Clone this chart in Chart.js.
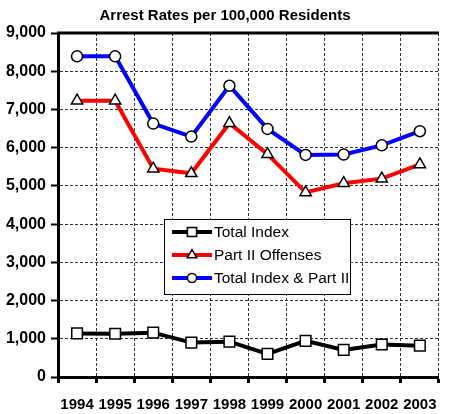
<!DOCTYPE html>
<html>
<head>
<meta charset="utf-8">
<script src="https://cdn.jsdelivr.net/npm/chart.js@4/dist/chart.umd.min.js"></script>
<style>
	html, body { margin: 0; padding: 0; background: #fff; }
	#wrap { width: 450px; height: 414px; }
</style>
</head>
<body>
<div id="wrap"><canvas id="lineChart" width="450" height="414"></canvas></div>
<script>
var years = [ "1994", "1995", "1996", "1997", "1998", "1999", "2000", "2001", "2002", "2003" ];
var totalIndex = [ 1140, 1130, 1160, 900, 925, 605, 945, 710, 850, 820 ];
var partTwo = [ 7230, 7230, 5450, 5330, 6640, 5830, 4830, 5070, 5190, 5560 ];
var combined = [ 8390, 8390, 6630, 6290, 7620, 6490, 5810, 5820, 6060, 6430 ];
var yTicks = [ 0, 9000, 1000 ]; // min, max, step

var sans = "'Liberation Sans', Arial, sans-serif";

// solid frame line across the top of the plot
var topFrame = {
	id : 'topFrame',
	afterDraw : function(chart) {
		var ctx = chart.ctx, a = chart.chartArea;
		ctx.save();
		ctx.strokeStyle = '#000';
		ctx.lineWidth = 3;
		ctx.beginPath();
		ctx.moveTo(a.left - 1, a.top);
		ctx.lineTo(a.right, a.top);
		ctx.stroke();
		ctx.restore();
	}
};

// boxed legend sitting inside the plot
var boxLegend = {
	id : 'boxLegend',
	afterDatasetsDraw : function(chart) {
		var ctx = chart.ctx;
		var x = 164, y = 219, w = 186, h = 75;
		ctx.save();
		ctx.fillStyle = '#fff';
		ctx.fillRect(x, y, w, h);
		ctx.strokeStyle = '#000';
		ctx.lineWidth = 1;
		ctx.strokeRect(x + 0.5, y + 0.5, w, h);
		ctx.font = "15.5px " + sans;
		ctx.textBaseline = 'middle';
		chart.data.datasets.forEach(function(ds, i) {
			var cy = 232 + i * 23;
			ctx.strokeStyle = ds.borderColor;
			ctx.lineWidth = 4;
			ctx.beginPath();
			ctx.moveTo(172, cy);
			ctx.lineTo(212, cy);
			ctx.stroke();
			ctx.fillStyle = '#fff';
			ctx.strokeStyle = '#000';
			ctx.lineWidth = 1.5;
			Chart.helpers.drawPoint(ctx, {
				pointStyle : ds.pointStyle,
				radius : ds.pointRadius - 1,
				rotation : 0,
				borderWidth : 1.5
			}, 192, cy);
			ctx.fillStyle = '#000';
			ctx.fillText(ds.label, 214, cy + 1);
		});
		ctx.restore();
	}
};

var ctxL = document.getElementById("lineChart").getContext('2d');
var myLineChart = new Chart(ctxL, {
	type : 'line',
	data : {
		labels : years,
		datasets : [ {
			label : "Total Index",
			data : totalIndex,
			borderColor : '#000',
			borderWidth : 4,
			pointStyle : 'rect',
			pointRadius : 7.5,
			pointBackgroundColor : '#fff',
			pointBorderColor : '#000',
			pointBorderWidth : 1.5
		}, {
			label : "Part II Offenses",
			data : partTwo,
			borderColor : '#ff0000',
			borderWidth : 4,
			pointStyle : 'triangle',
			pointRadius : 6.5,
			pointBackgroundColor : '#fff',
			pointBorderColor : '#000',
			pointBorderWidth : 1.5
		}, {
			label : "Total Index & Part II",
			data : combined,
			borderColor : '#0000ff',
			borderWidth : 4,
			pointStyle : 'circle',
			pointRadius : 5.5,
			pointBackgroundColor : '#fff',
			pointBorderColor : '#000',
			pointBorderWidth : 1.5
		} ]
	},
	options : {
		responsive : false,
		animation : false,
		layout : { padding : 0 },
		plugins : {
			legend : { display : false },
			tooltip : { enabled : false },
			title : {
				display : true,
				text : "Arrest Rates per 100,000 Residents",
				color : '#000',
				font : { family : sans, size : 15, weight : 'bold', lineHeight : 1.2 },
				padding : { top : 7, bottom : 8 }
			}
		},
		scales : {
			x : {
				offset : true,
				grid : {
					offset : true,
					color : '#333',
					lineWidth : 1,
					tickColor : '#000',
					tickWidth : 3,
					tickLength : 6,
					tickBorderDash : []
				},
				border : { color : '#000', width : 3, dash : [ 3, 2 ] },
				ticks : {
					color : '#000',
					padding : 13,
					maxRotation : 0,
					autoSkip : false,
					font : { family : sans, size : 15, weight : 'bold' }
				},
				afterFit : function(s) { s.height = 37; }
			},
			y : {
				min : yTicks[0],
				max : yTicks[1],
				ticks : {
					stepSize : yTicks[2],
					color : '#000',
					padding : 5,
					font : { family : sans, size : 16, weight : 'bold' },
					callback : function(v) { return v.toLocaleString('en-US'); }
				},
				grid : {
					color : '#333',
					lineWidth : 1,
					tickColor : '#000',
					tickWidth : 2,
					tickLength : 7,
					tickBorderDash : []
				},
				border : { color : '#000', width : 3, dash : [ 3, 2 ] },
				afterFit : function(s) { s.width = 58; }
			}
		}
	},
	plugins : [ topFrame, boxLegend ]
});
</script>
</body>
</html>
